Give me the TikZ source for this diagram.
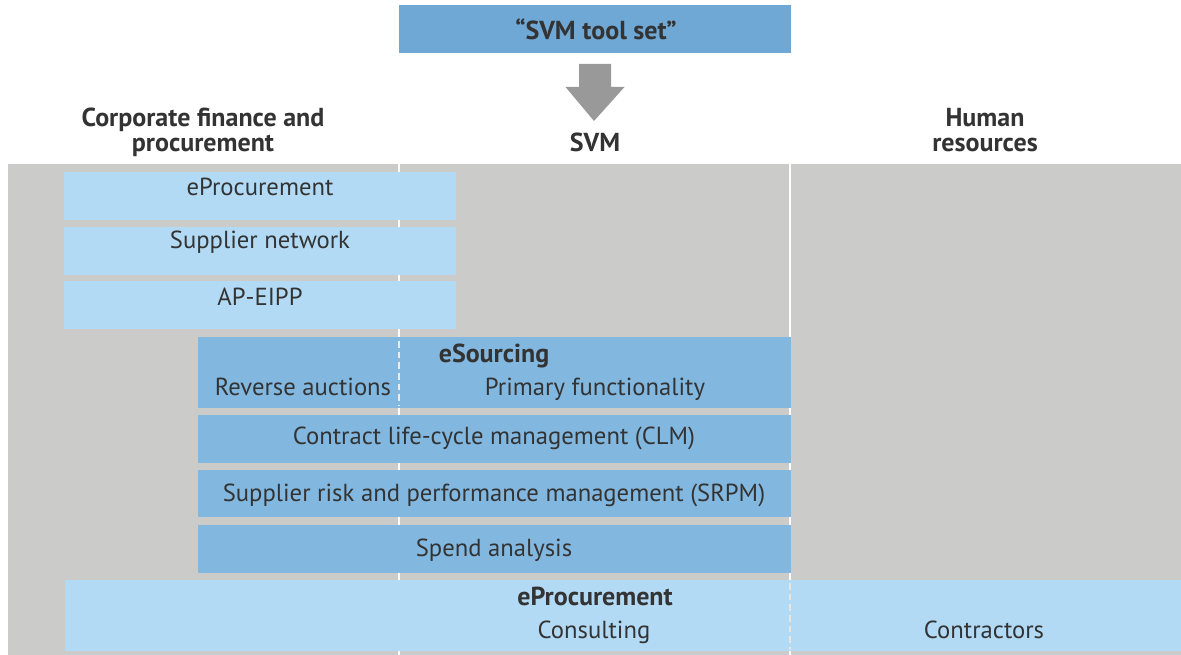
\documentclass[tikz,border=0pt]{standalone}
\usepackage{fontspec}
\setmainfont{PT Sans}
\usetikzlibrary{fit}
\definecolor{bggray}{HTML}{CBCBCA}
\definecolor{lblue}{HTML}{B3DAF5}
\definecolor{mblue}{HTML}{82B8E0}
\definecolor{tblue}{HTML}{6FA7D5}
\definecolor{agray}{HTML}{999999}
\definecolor{txtc}{HTML}{333333}
\begin{document}
\begin{tikzpicture}[x=0.75pt,y=-0.75pt,
  lbox/.style={fill=lblue, inner sep=0pt, draw=none},
  mbox/.style={fill=mblue, inner sep=0pt, draw=none},
  txt/.style={text=txtc, font=\fontsize{18.5}{19}\selectfont, inner sep=0pt, anchor=base},
  btxt/.style={txt, font=\fontsize{19.5}{18.75}\selectfont\bfseries},
  hdr/.style={btxt, align=center},
  sepline/.style={white, line width=1.2pt},
  dashline/.style={draw=white!85!gray, line width=1.5pt, dash pattern=on 5pt off 3pt}]
\useasboundingbox (0,0) rectangle (1181,655);
\fill[white] (0,0) rectangle (1181,655);
% background
\fill[bggray] (8,164) rectangle (1181,655);
\coordinate (l1t) at (399,164); \coordinate (l1b) at (399,655);
\coordinate (l2t) at (790,164); \coordinate (l2b) at (790,655);
\draw[sepline] (l1t) -- (l1b);
\draw[sepline] (l2t) -- (l2b);
% title
\node[fill=tblue, inner sep=0pt, fit={(399,5)(791,53)}] (title) {};
\node[btxt] (titletxt) at (596,39.5) {“SVM tool set”};
% arrow
\fill[agray] (579,64) -- (611,64) -- (611,87) -- (624.5,87) -- (594,121) -- (565.5,87) -- (579,87) -- cycle;
% headers
\node[hdr] (h1) at (203,152) {Corporate finance and\\procurement};
\node[btxt] (h2) at (595,152) {SVM};
\node[hdr] (h3) at (985,152) {Human\\resources};
% light blue boxes
\node[lbox, fit={(64,172)(456,220)}] (ep) {};
\node[txt] at (260,196) {eProcurement};
\node[lbox, fit={(64,227)(456,275)}] (sn) {};
\node[txt] at (260,249) {Supplier network};
\node[lbox, fit={(64,281)(456,329)}] (ap) {};
\node[txt] at (260,305.5) {AP-EIPP};
% mid blue boxes
\node[mbox, fit={(198,337)(791,408)}] (es) {};
\coordinate (esd1) at (399,341); \coordinate (esd2) at (399,406);
\draw[dashline] (esd1) -- (esd2);
\node[btxt] at (494,363) {eSourcing};
\node[txt] at (303,395.5) {Reverse auctions};
\node[txt] at (595,395.5) {Primary functionality};
\node[mbox, fit={(198,415)(791,463)}] (clm) {};
\node[txt] at (494,445) {Contract life-cycle management (CLM)};
\node[mbox, fit={(198,470)(791,517)}] (srpm) {};
\node[txt] at (494,501.5) {Supplier risk and performance management (SRPM)};
\node[mbox, fit={(198,525)(791,573)}] (sa) {};
\node[txt] at (494,556.5) {Spend analysis};
% bottom box
\node[lbox, fit={(65,580)(1181,651)}] (bp) {};
\coordinate (bpd1) at (790,583); \coordinate (bpd2) at (790,650);
\draw[dashline, draw=white!80!gray] (bpd1) -- (bpd2);
\node[btxt] at (595,605) {eProcurement};
\node[txt] at (594,638) {Consulting};
\node[txt] at (984,638.5) {Contractors};
\end{tikzpicture}
\end{document}
